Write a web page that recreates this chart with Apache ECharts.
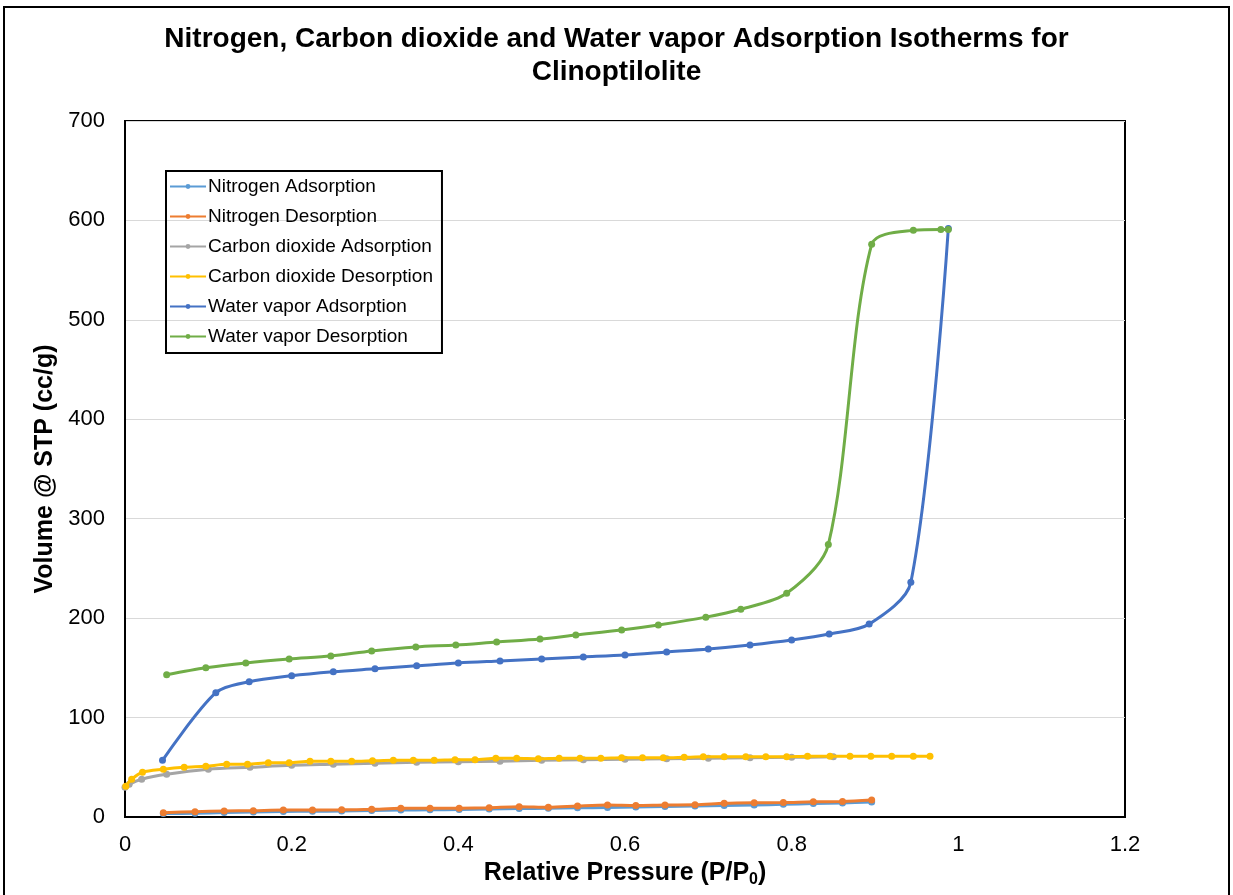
<!DOCTYPE html>
<html>
<head>
<meta charset="utf-8">
<script src="https://cdn.jsdelivr.net/npm/echarts@6/dist/echarts.min.js"></script>
<style>
  html, body { margin: 0; padding: 0; background: #fff; }
  #chart1 { width: 1233px; height: 895px; }
</style>
</head>
<body>
<div id="chart1"></div>
<script>
var dom = document.getElementById("chart1");
var myChart = echarts.init(dom);

var seriesNames = ["Nitrogen Adsorption", "Nitrogen Desorption", "Carbon dioxide Adsorption",
    "Carbon dioxide Desorption", "Water vapor Adsorption", "Water vapor Desorption"];
var colors = ["#5B9BD5", "#ED7D31", "#A5A5A5", "#FFC000", "#4472C4", "#70AD47"];

// nitrogen
var n2AdsX = [0.046, 0.084, 0.119, 0.154, 0.19, 0.225, 0.26, 0.296, 0.331, 0.366, 0.401, 0.437, 0.473,
    0.508, 0.543, 0.579, 0.613, 0.648, 0.684, 0.719, 0.755, 0.79, 0.826, 0.861, 0.896];
var n2AdsY = [3.5, 3.8, 4.5, 5, 5.5, 5.8, 6, 6.5, 7, 7.2, 7.5, 8, 8.5,
    8.8, 9.2, 9.6, 10, 10.5, 11, 11.5, 12, 12.8, 13.5, 14.2, 15];
var n2DesX = [0.046, 0.084, 0.119, 0.154, 0.19, 0.225, 0.26, 0.296, 0.331, 0.366, 0.401, 0.437, 0.473,
    0.508, 0.543, 0.579, 0.613, 0.648, 0.684, 0.719, 0.755, 0.79, 0.826, 0.861, 0.896];
var n2DesY = [4.3, 5.4, 6, 6.4, 7, 7, 7.2, 7.7, 8.7, 8.7, 8.8, 9.4, 10.4,
    9.7, 11, 12, 11.5, 12, 12.2, 13.8, 14.4, 14.5, 15.4, 15.5, 17];

// carbon dioxide
var co2AdsX = [0, 0.005, 0.02, 0.05, 0.1, 0.15, 0.2, 0.25, 0.3, 0.35, 0.4, 0.45, 0.5,
    0.55, 0.6, 0.65, 0.7, 0.75, 0.8, 0.85];
var co2AdsY = [30, 33, 38, 43, 48, 50, 52, 53, 54, 55, 55.5, 56, 57,
    57.5, 58, 58.5, 59, 59.5, 60, 60.5];
var co2DesX = [0.001, 0.008, 0.021, 0.046, 0.071, 0.097, 0.122, 0.147, 0.172, 0.197, 0.222, 0.247, 0.272,
    0.297, 0.322, 0.346, 0.371, 0.396, 0.42, 0.445, 0.47, 0.496, 0.521, 0.546, 0.571, 0.596, 0.621,
    0.646, 0.671, 0.694, 0.719, 0.745, 0.769, 0.794, 0.819, 0.846, 0.87, 0.895, 0.92, 0.946, 0.966];
var co2DesY = [31, 38, 45, 48, 50, 51, 53, 53, 54.5, 54.5, 56, 56, 56,
    56.5, 57, 57, 57, 57.5, 57.5, 59, 59, 58.5, 59, 59, 59, 59.5, 59.5,
    59.5, 60, 60.5, 60.5, 60.5, 60.5, 60.5, 61, 61, 61, 61, 61, 61, 61];

// water vapor
var h2oAdsX = [0.045, 0.109, 0.149, 0.2, 0.25, 0.3, 0.35, 0.4, 0.45, 0.5, 0.55, 0.6, 0.65,
    0.7, 0.75, 0.8, 0.845, 0.893, 0.943, 0.988];
var h2oAdsY = [57, 125, 136, 142, 146, 149, 152, 155, 157, 159, 161, 163, 166,
    169, 173, 178, 184, 194, 236, 592];
var h2oDesX = [0.05, 0.097, 0.145, 0.197, 0.247, 0.296, 0.349, 0.397, 0.446, 0.498, 0.541, 0.596, 0.64,
    0.697, 0.739, 0.794, 0.844, 0.896, 0.946, 0.979, 0.988];
var h2oDesY = [143, 150, 155, 159, 162, 167, 171, 173, 176, 179, 183, 188, 193,
    201, 209, 225, 274, 576, 590, 591, 591];

var xs = [n2AdsX, n2DesX, co2AdsX, co2DesX, h2oAdsX, h2oDesX];
var ys = [n2AdsY, n2DesY, co2AdsY, co2DesY, h2oAdsY, h2oDesY];

var series = seriesNames.map(function (name, i) {
    return {
        name: name,
        type: 'line',
        smooth: 0.3,
        symbol: 'circle',
        symbolSize: 7,
        showAllSymbol: true,
        data: xs[i].map(function (x, k) { return [x, ys[i][k]]; }),
        itemStyle: { color: colors[i] },
        lineStyle: { width: 3, color: colors[i] },
        z: 2 + i
    };
});

var font = 'Liberation Sans, Arial, sans-serif';

option = {
    animation: false,
    backgroundColor: '#fff',
    textStyle: { fontFamily: font },
    title: {
        left: 'center',
        top: 18,
        text: 'Nitrogen, Carbon dioxide and Water vapor Adsorption Isotherms for\nClinoptilolite',
        textStyle: {
            fontFamily: font,
            fontSize: 28,
            fontWeight: 'bold',
            color: '#000',
            lineHeight: 33
        }
    },
    legend: {
        orient: 'vertical',
        left: 166,
        top: 171,
        data: seriesNames,
        borderColor: '#000',
        borderWidth: 2,
        padding: [6, 9, 7, 3],
        itemWidth: 36,
        itemHeight: 6,
        itemGap: 11,
        textStyle: { fontFamily: font, fontSize: 19, lineHeight: 19, color: '#000', padding: [0, 0, 0, -3] }
    },
    grid: {
        left: 125,
        right: 108,
        top: 121,
        bottom: 78,
        show: true,
        borderColor: '#000',
        borderWidth: 2
    },
    xAxis: {
        type: 'value',
        min: 0,
        max: 1.2,
        interval: 0.2,
        name: '{a|Relative Pressure (P/P}{s|0}{a|)}',
        nameLocation: 'middle',
        nameGap: 33,
        nameTextStyle: {
            rich: {
                a: { fontFamily: font, fontSize: 25, fontWeight: 'bold', color: '#000' },
                s: { fontFamily: font, fontSize: 16, fontWeight: 'bold', color: '#000', verticalAlign: 'bottom', padding: [12, 0, 0, 0] }
            }
        },
        axisLine: { show: true, onZero: false, lineStyle: { color: '#000', width: 2 } },
        axisTick: { show: false },
        splitLine: { show: false },
        axisLabel: { fontFamily: font, fontSize: 22, color: '#000', margin: 17 }
    },
    yAxis: {
        type: 'value',
        min: 0,
        max: 700,
        interval: 100,
        name: 'Volume @ STP (cc/g)',
        nameLocation: 'middle',
        nameGap: 52,
        nameTextStyle: { fontFamily: font, fontSize: 25, fontWeight: 'bold', color: '#000' },
        axisLine: { show: true, lineStyle: { color: '#000', width: 2 } },
        axisTick: { show: false },
        splitLine: { show: true, lineStyle: { color: '#d9d9d9', width: 1 } },
        axisLabel: { fontFamily: font, fontSize: 22, color: '#000', margin: 20 }
    },
    graphic: [{
        type: 'rect',
        shape: { x: 4, y: 7, width: 1225, height: 900 },
        style: { fill: 'none', stroke: '#000', lineWidth: 2 },
        silent: true
    }],
    series: series
};

if (option && typeof option === "object") {
    myChart.setOption(option, true);
}
</script>
</body>
</html>
